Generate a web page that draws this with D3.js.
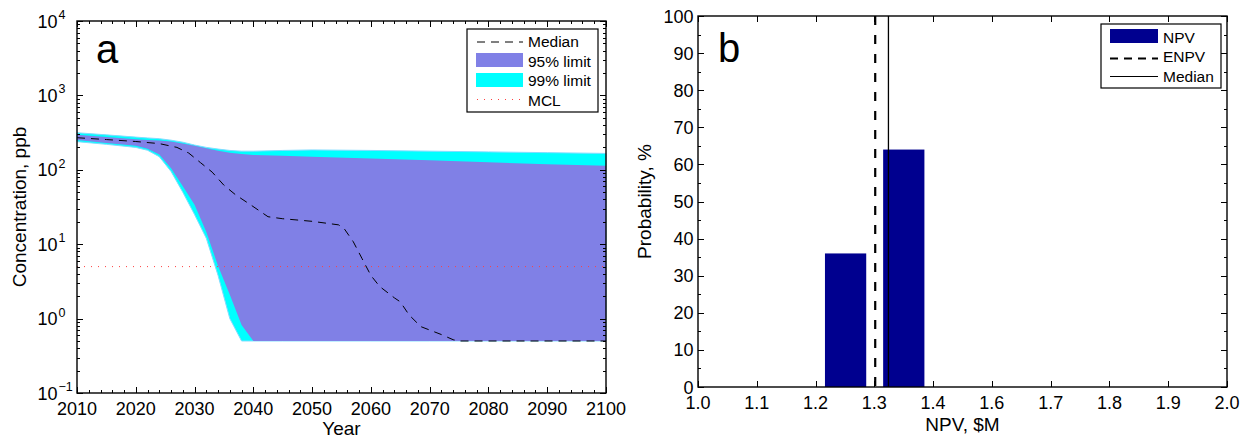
<!DOCTYPE html>
<html>
<head>
<meta charset="utf-8">
<script src="https://cdn.jsdelivr.net/npm/d3@7"></script>
<style>
  body { margin: 0; background: #fff; }
  text { font-family: "Liberation Sans", Arial, Helvetica, sans-serif; fill: #000; }
</style>
</head>
<body>
<script>
var width = 1255,
    height = 440;

// panel a: concentration bands, ppb
var bandYears = [2010, 2015, 2020, 2022, 2024, 2026, 2028, 2030, 2032, 2034, 2036, 2038, 2040, 2045, 2050, 2060, 2070, 2080, 2090, 2100];
var upper99 = [315, 295, 275, 268, 262, 250, 235, 215, 200, 190, 182, 178, 178, 182, 185, 182, 178, 174, 170, 166];
var upper95 = [295, 275, 258, 252, 248, 240, 225, 210, 195, 180, 170, 163, 158, 154, 150, 142, 134, 126, 119, 113];
var lower95 = [251, 230, 210, 192, 160, 105, 60, 34, 14.6, 5.1, 2.1, 0.82, 0.5, 0.5, 0.5, 0.5, 0.5, 0.5, 0.5, 0.5];
var lower99 = [239, 220, 200, 183, 150, 95, 50, 25, 12, 3.8, 1.0, 0.5, 0.5, 0.5, 0.5, 0.5, 0.5, 0.5, 0.5, 0.5];

var medianYears = [2010, 2015, 2020, 2024, 2027, 2029, 2031, 2033, 2035, 2037, 2039.5, 2041.5, 2042.5, 2045, 2050, 2054.5, 2055.5, 2057, 2058.5, 2060, 2061.5, 2064, 2065, 2066.5, 2068.5, 2072, 2074, 2075, 2100];
var medianConc = [270, 255, 240, 225, 200, 168, 125, 93, 62, 46, 34, 26.5, 23.4, 22, 20.3, 18.2, 16, 10.8, 6.4, 3.8, 2.7, 1.9, 1.68, 1.12, 0.78, 0.61, 0.52, 0.5, 0.5];

var mcl = 5;
var concExponents = [-1, 0, 1, 2, 3, 4];
var yearTicks = [2010, 2020, 2030, 2040, 2050, 2060, 2070, 2080, 2090, 2100];

// panel b: NPV histogram
var npvCenters = [1.279, 1.389];
var npvProb = [36, 64];
var npvBarWidth = 0.078;
var enpv = 1.335;
var npvMedian = 1.36;
var npvTicks = d3.range(10).map(function(i) { return 1 + i / 9; });
var probTicks = d3.range(0, 101, 10);

var svg = d3.select("body").append("svg")
    .attr("width", width)
    .attr("height", height)
    .style("background", "#fff");

// ---------- panel a ----------
var ax = { left: 77, right: 606, top: 21, bottom: 393 };

var xa = d3.scaleLinear().domain([2010, 2100]).range([ax.left, ax.right]);
var ya = d3.scaleLog().domain([0.1, 10000]).range([ax.bottom, ax.top]);

var ga = svg.append("g");

var band = function(lo, hi) {
  return d3.area()
      .x(function(d, i) { return xa(bandYears[i]); })
      .y0(function(d, i) { return ya(lo[i]); })
      .y1(function(d, i) { return ya(hi[i]); })(bandYears);
};

ga.append("path")
    .attr("d", band(lower99, upper99))
    .attr("fill", "#00ffff")
    .attr("stroke", "#7fdcff")
    .attr("stroke-width", 1);

ga.append("path")
    .attr("d", band(lower95, upper95))
    .attr("fill", "#8080e6");

ga.append("line")
    .attr("x1", ax.left).attr("x2", ax.right)
    .attr("y1", ya(mcl)).attr("y2", ya(mcl))
    .attr("stroke", "#ff4040")
    .attr("stroke-width", 1)
    .attr("stroke-dasharray", "1,6");

ga.append("path")
    .attr("d", d3.line()
        .x(function(d, i) { return xa(medianYears[i]); })
        .y(function(d) { return ya(d); })(medianConc))
    .attr("fill", "none")
    .attr("stroke", "#000")
    .attr("stroke-width", 1)
    .attr("stroke-dasharray", "8,6");

// box and ticks
function box(g, b) {
  g.append("rect")
      .attr("x", b.left).attr("y", b.top)
      .attr("width", b.right - b.left).attr("height", b.bottom - b.top)
      .attr("fill", "none").attr("stroke", "#000").attr("stroke-width", 1.4);
}

function ticksX(g, scale, values, b, len) {
  values.forEach(function(v) {
    var x = Math.round(scale(v)) + 0.5;
    g.append("line").attr("x1", x).attr("x2", x).attr("y1", b.bottom).attr("y2", b.bottom - len)
        .attr("stroke", "#000");
    g.append("line").attr("x1", x).attr("x2", x).attr("y1", b.top).attr("y2", b.top + len)
        .attr("stroke", "#000");
  });
}

function ticksY(g, scale, values, b, len) {
  values.forEach(function(v) {
    var y = Math.round(scale(v)) + 0.5;
    g.append("line").attr("y1", y).attr("y2", y).attr("x1", b.left).attr("x2", b.left + len)
        .attr("stroke", "#000");
    g.append("line").attr("y1", y).attr("y2", y).attr("x1", b.right).attr("x2", b.right - len)
        .attr("stroke", "#000");
  });
}

var minorYears = d3.range(2010, 2101, 2).filter(function(d) { return d % 10 !== 0; });
ticksX(ga, xa, yearTicks, ax, 6);
ticksX(ga, xa, minorYears, ax, 3);

var minorConc = [];
concExponents.slice(0, -1).forEach(function(e) {
  d3.range(2, 10).forEach(function(m) { minorConc.push(m * Math.pow(10, e)); });
});
ticksY(ga, ya, concExponents.map(function(e) { return Math.pow(10, e); }), ax, 6);
ticksY(ga, ya, minorConc, ax, 3);
box(ga, ax);

ga.selectAll(".xlab")
    .data(yearTicks)
    .enter().append("text")
    .attr("x", function(d) { return xa(d); })
    .attr("y", ax.bottom + 22)
    .attr("text-anchor", "middle")
    .style("font-size", "18px")
    .text(function(d) { return d; });

var ylabs = ga.selectAll(".ylab")
    .data(concExponents)
    .enter().append("g")
    .attr("transform", function(d) { return "translate(0," + ya(Math.pow(10, d)) + ")"; });

ylabs.append("text")
    .attr("x", 57.5)
    .attr("y", 6.5)
    .attr("text-anchor", "end")
    .style("font-size", "18px")
    .text("10");

ylabs.append("text")
    .attr("x", 58.5)
    .attr("y", -2)
    .style("font-size", "12.5px")
    .text(function(d) { return d < 0 ? "\u2212" + (-d) : d; });

ga.append("text")
    .attr("x", (ax.left + ax.right) / 2)
    .attr("y", 435)
    .attr("text-anchor", "middle")
    .style("font-size", "19px")
    .text("Year");

ga.append("text")
    .attr("transform", "translate(26," + (ax.top + ax.bottom) / 2 + ") rotate(-90)")
    .attr("text-anchor", "middle")
    .style("font-size", "19px")
    .text("Concentration, ppb");

ga.append("text")
    .attr("x", 96)
    .attr("y", 63)
    .style("font-size", "40px")
    .text("a");

// legend a
var la = ga.append("g").attr("transform", "translate(467,29)");
la.append("rect")
    .attr("width", 131).attr("height", 83)
    .attr("fill", "#fff").attr("stroke", "#000").attr("stroke-width", 1.2);
la.append("line").attr("x1", 10).attr("x2", 56).attr("y1", 13).attr("y2", 13)
    .attr("stroke", "#000").attr("stroke-dasharray", "8,6");
la.append("rect").attr("x", 9).attr("y", 24).attr("width", 47).attr("height", 14).attr("fill", "#8080e6");
la.append("rect").attr("x", 9).attr("y", 44).attr("width", 47).attr("height", 14).attr("fill", "#00ffff");
la.append("line").attr("x1", 10).attr("x2", 56).attr("y1", 70.5).attr("y2", 70.5)
    .attr("stroke", "#ff4040").attr("stroke-dasharray", "1,6");
la.selectAll("text")
    .data(["Median", "95% limit", "99% limit", "MCL"])
    .enter().append("text")
    .attr("x", 61)
    .attr("y", function(d, i) { return 18 + i * 19.5; })
    .style("font-size", "15.5px")
    .text(function(d) { return d; });

// ---------- panel b ----------
var bx = { left: 698, right: 1227, top: 16, bottom: 387 };

var xb = d3.scaleLinear().domain([1, 2]).range([bx.left, bx.right]);
var yb = d3.scaleLinear().domain([0, 100]).range([bx.bottom, bx.top]);

var gb = svg.append("g");

gb.selectAll(".bar")
    .data(npvCenters)
    .enter().append("rect")
    .attr("x", function(d) { return xb(d - npvBarWidth / 2); })
    .attr("width", function(d) { return xb(d + npvBarWidth / 2) - xb(d - npvBarWidth / 2); })
    .attr("y", function(d, i) { return yb(npvProb[i]); })
    .attr("height", function(d, i) { return yb(0) - yb(npvProb[i]); })
    .attr("fill", "#00008f");

gb.append("line")
    .attr("x1", xb(enpv)).attr("x2", xb(enpv))
    .attr("y1", bx.top).attr("y2", bx.bottom)
    .attr("stroke", "#000").attr("stroke-width", 2.2)
    .attr("stroke-dasharray", "9,10");

gb.append("line")
    .attr("x1", xb(npvMedian)).attr("x2", xb(npvMedian))
    .attr("y1", bx.top).attr("y2", bx.bottom)
    .attr("stroke", "#000").attr("stroke-width", 1.3);

ticksX(gb, xb, npvTicks, bx, 6);
ticksY(gb, yb, probTicks, bx, 6);
ticksY(gb, yb, d3.range(5, 100, 10), bx, 3);
box(gb, bx);

gb.selectAll(".xlab")
    .data(npvTicks)
    .enter().append("text")
    .attr("x", function(d) { return xb(d); })
    .attr("y", bx.bottom + 22)
    .attr("text-anchor", "middle")
    .style("font-size", "18px")
    .text(function(d) { return d.toFixed(1); });

gb.selectAll(".ylab")
    .data(probTicks)
    .enter().append("text")
    .attr("x", bx.left - 4.5)
    .attr("y", function(d) { return yb(d) + 6.5; })
    .attr("text-anchor", "end")
    .style("font-size", "18px")
    .text(function(d) { return d; });

gb.append("text")
    .attr("x", (bx.left + bx.right) / 2)
    .attr("y", 431)
    .attr("text-anchor", "middle")
    .style("font-size", "19px")
    .text("NPV, $M");

gb.append("text")
    .attr("transform", "translate(651," + (bx.top + bx.bottom) / 2 + ") rotate(-90)")
    .attr("text-anchor", "middle")
    .style("font-size", "19px")
    .text("Probability, %");

gb.append("text")
    .attr("x", 718)
    .attr("y", 62)
    .style("font-size", "40px")
    .text("b");

// legend b
var lb = gb.append("g").attr("transform", "translate(1101,24)");
lb.append("rect")
    .attr("width", 120).attr("height", 64)
    .attr("fill", "#fff").attr("stroke", "#000").attr("stroke-width", 1.2);
lb.append("rect").attr("x", 9).attr("y", 5).attr("width", 48).attr("height", 14).attr("fill", "#00008f");
lb.append("line").attr("x1", 9).attr("x2", 57).attr("y1", 34.5).attr("y2", 34.5)
    .attr("stroke", "#000").attr("stroke-width", 2.2).attr("stroke-dasharray", "8,6");
lb.append("line").attr("x1", 9).attr("x2", 57).attr("y1", 52.5).attr("y2", 52.5)
    .attr("stroke", "#000").attr("stroke-width", 1.2);
lb.selectAll("text")
    .data(["NPV", "ENPV", "Median"])
    .enter().append("text")
    .attr("x", 62)
    .attr("y", function(d, i) { return 18.5 + i * 19.5; })
    .style("font-size", "15.5px")
    .text(function(d) { return d; });
</script>
</body>
</html>
